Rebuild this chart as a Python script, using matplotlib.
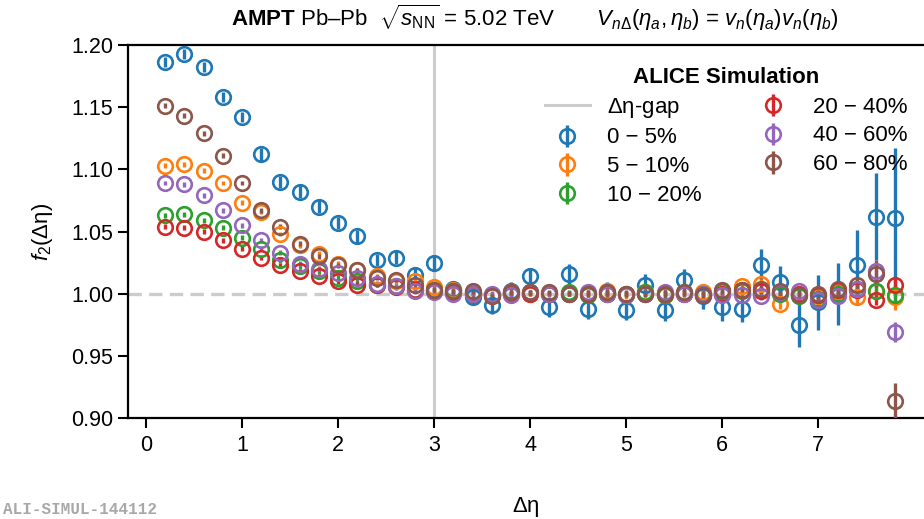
import matplotlib
matplotlib.use("Agg")
import matplotlib.pyplot as plt
import numpy as np

plt.rcParams['font.family'] = ['Liberation Sans', 'DejaVu Sans']
plt.rcParams['mathtext.fontset'] = 'custom'
plt.rcParams['mathtext.rm'] = 'Liberation Sans'
plt.rcParams['mathtext.it'] = 'Liberation Sans:italic'
plt.rcParams['mathtext.bf'] = 'Liberation Sans:bold'

deta = [0.2, 0.4, 0.6, 0.8, 1.0, 1.2, 1.4, 1.6, 1.8, 2.0, 2.2, 2.4, 2.6, 2.8, 3.0,
        3.2, 3.4, 3.6, 3.8, 4.0, 4.2, 4.4, 4.6, 4.8, 5.0, 5.2, 5.4, 5.6, 5.8, 6.0,
        6.2, 6.4, 6.6, 6.8, 7.0, 7.2, 7.4, 7.6, 7.8]

labels = ["0 \u2212 5%", "5 \u2212 10%", "10 \u2212 20%", "20 \u2212 40%", "40 \u2212 60%", "60 \u2212 80%"]
colors = ["#1f77b4", "#ff7f0e", "#2ca02c", "#d62728", "#9467bd", "#8c564b"]

f_0_5 = [1.186, 1.193, 1.182, 1.158, 1.142, 1.112, 1.090, 1.082, 1.070, 1.057, 1.046, 1.027, 1.029, 1.015, 1.025,
         1.004, 0.997, 0.991, 1.002, 1.014, 0.989, 1.016, 0.988, 1.001, 0.987, 1.007, 0.987, 1.011, 0.998, 0.989,
         0.988, 1.023, 1.009, 0.975, 0.993, 1.000, 1.023, 1.062, 1.061]
e_0_5 = [0.004, 0.004, 0.004, 0.004, 0.004, 0.005, 0.005, 0.005, 0.005, 0.005, 0.005, 0.005, 0.005, 0.006, 0.006,
         0.006, 0.006, 0.007, 0.007, 0.007, 0.008, 0.008, 0.008, 0.008, 0.008, 0.009, 0.009, 0.009, 0.010, 0.011,
         0.011, 0.013, 0.013, 0.018, 0.022, 0.025, 0.028, 0.035, 0.056]

f_5_10 = [1.103, 1.104, 1.099, 1.089, 1.073, 1.066, 1.048, 1.039, 1.032, 1.024, 1.019, 1.014, 1.010, 1.010, 1.005,
          1.003, 1.001, 0.999, 1.001, 1.000, 1.000, 1.000, 1.000, 1.002, 0.999, 1.001, 0.999, 1.000, 1.001, 1.002,
          1.006, 1.008, 0.992, 0.999, 0.998, 1.002, 0.997, 1.002, 0.997]
e_5_10 = [0.002, 0.002, 0.002, 0.002, 0.002, 0.002, 0.002, 0.002, 0.002, 0.002, 0.002, 0.002, 0.002, 0.002, 0.002,
          0.002, 0.002, 0.002, 0.002, 0.002, 0.002, 0.002, 0.003, 0.003, 0.003, 0.003, 0.003, 0.003, 0.003, 0.003,
          0.003, 0.004, 0.004, 0.004, 0.004, 0.005, 0.005, 0.006, 0.010]

f_10_20 = [1.063, 1.064, 1.059, 1.053, 1.045, 1.036, 1.027, 1.022, 1.018, 1.013, 1.010, 1.007, 1.006, 1.003, 1.003,
           1.002, 1.000, 0.999, 1.000, 1.001, 1.000, 1.001, 0.999, 1.000, 1.000, 1.001, 0.999, 1.001, 1.000, 1.002,
           1.002, 1.003, 1.000, 0.998, 0.996, 1.000, 1.004, 1.002, 0.999]
e_10_20 = [0.002, 0.002, 0.002, 0.002, 0.002, 0.002, 0.002, 0.002, 0.002, 0.002, 0.002, 0.002, 0.002, 0.002, 0.002,
           0.002, 0.002, 0.002, 0.002, 0.002, 0.002, 0.002, 0.002, 0.002, 0.002, 0.003, 0.003, 0.003, 0.003, 0.003,
           0.003, 0.003, 0.003, 0.003, 0.004, 0.004, 0.004, 0.005, 0.006]

f_20_40 = [1.054, 1.053, 1.050, 1.043, 1.036, 1.029, 1.023, 1.018, 1.014, 1.010, 1.007, 1.007, 1.005, 1.003, 1.002,
           1.001, 1.000, 0.998, 1.000, 1.000, 1.000, 1.000, 1.000, 1.000, 1.000, 1.000, 1.000, 1.000, 0.999, 1.000,
           1.003, 1.002, 1.001, 1.000, 0.999, 1.003, 1.003, 0.995, 1.007]
e_20_40 = [0.002, 0.002, 0.002, 0.002, 0.002, 0.002, 0.002, 0.002, 0.002, 0.002, 0.002, 0.002, 0.002, 0.002, 0.002,
           0.002, 0.002, 0.002, 0.002, 0.002, 0.002, 0.002, 0.002, 0.002, 0.002, 0.002, 0.002, 0.002, 0.002, 0.002,
           0.002, 0.003, 0.003, 0.003, 0.003, 0.003, 0.004, 0.004, 0.005]

f_40_60 = [1.089, 1.088, 1.079, 1.067, 1.055, 1.043, 1.033, 1.024, 1.020, 1.017, 1.013, 1.008, 1.006, 1.002, 1.001,
           1.000, 1.000, 1.000, 0.999, 1.001, 1.000, 1.000, 1.001, 1.000, 0.999, 1.000, 1.001, 1.000, 1.000, 0.999,
           0.999, 0.998, 1.001, 1.002, 0.995, 0.998, 1.004, 1.018, 0.969]
e_40_60 = [0.002, 0.002, 0.002, 0.002, 0.002, 0.002, 0.002, 0.002, 0.002, 0.002, 0.002, 0.002, 0.002, 0.002, 0.002,
           0.002, 0.002, 0.002, 0.002, 0.002, 0.002, 0.002, 0.002, 0.002, 0.002, 0.003, 0.003, 0.003, 0.003, 0.003,
           0.003, 0.003, 0.003, 0.004, 0.004, 0.004, 0.005, 0.006, 0.008]

f_60_80 = [1.151, 1.143, 1.129, 1.111, 1.089, 1.067, 1.054, 1.040, 1.030, 1.023, 1.019, 1.013, 1.011, 1.007, 1.003,
           1.002, 1.002, 0.998, 1.001, 1.001, 1.001, 1.000, 1.000, 1.001, 1.000, 1.000, 1.000, 1.001, 0.999, 1.003,
           1.003, 1.004, 1.002, 0.999, 1.000, 1.004, 1.007, 1.016, 0.914]
e_60_80 = [0.002, 0.002, 0.002, 0.002, 0.002, 0.002, 0.002, 0.002, 0.002, 0.002, 0.002, 0.002, 0.002, 0.002, 0.002,
           0.002, 0.002, 0.002, 0.002, 0.002, 0.002, 0.002, 0.003, 0.003, 0.003, 0.003, 0.003, 0.003, 0.003, 0.003,
           0.003, 0.004, 0.004, 0.004, 0.004, 0.005, 0.006, 0.011, 0.014]

values = [f_0_5, f_5_10, f_10_20, f_20_40, f_40_60, f_60_80]
errors = [e_0_5, e_5_10, e_10_20, e_20_40, e_40_60, e_60_80]

yticks = [0.90, 0.95, 1.00, 1.05, 1.10, 1.15, 1.20]
xticks = [0, 1, 2, 3, 4, 5, 6, 7]

fig = plt.figure(figsize=(9.24, 5.19), dpi=100)
ax = fig.add_axes([128 / 924, 101 / 519, 1 - 128 / 924, 373 / 519])

ax.axhline(1.0, color="#cccccc", lw=2.4, ls=(0, (4.0, 2.2)), zorder=1)
gap = ax.axvline(3.0, color="#cccccc", lw=2.2, zorder=1, label=r"$\mathit{\Delta}$η-gap")

handles = [gap]
for v, e, c, lab in zip(values, errors, colors, labels):
    h = ax.errorbar(deta, v, yerr=e, fmt='o', ms=10.5, mfc='none', mec=c, mew=1.9,
                    ecolor=c, elinewidth=2.4, capsize=0, color=c, label=lab, zorder=3)
    handles.append(h)

ax.set_xlim(-0.1875, 8.10)
ax.set_ylim(0.90, 1.20)
ax.set_xticks(xticks)
ax.set_yticks(yticks)
ax.set_yticklabels([f"{t:.2f}" for t in yticks])
ax.tick_params(axis='both', which='major', direction='out', length=7, width=1.5, labelsize=15.5)
ax.tick_params(axis='x', pad=5)
for s in ['left', 'top', 'bottom']:
    ax.spines[s].set_linewidth(1.6)
ax.spines['right'].set_visible(False)

ax.set_xlabel(r"$\mathit{\Delta}$η", fontsize=16, labelpad=28)
ax.set_ylabel(r"$f_2$($\mathit{\Delta}$η)", fontsize=16, labelpad=12)

leg = ax.legend(handles=handles, loc='upper right', bbox_to_anchor=(1.0045, 0.995), ncol=2,
                frameon=False, fontsize=16, title="ALICE Simulation",
                title_fontproperties={'weight': 'bold', 'size': 16},
                handlelength=2.0, columnspacing=2.2, labelspacing=0.35, handletextpad=0.8)

fig.text(0.579, 0.966,
         r"$\mathbf{AMPT}$ Pb–Pb  $\sqrt{s_{\mathrm{NN}}}$ = 5.02 TeV       "
         r"$V_{n\Delta}(\eta_a, \eta_b)$ = $v_n(\eta_a)v_n(\eta_b)$",
         ha='center', va='center', fontsize=16)

fig.text(0.003, 0.004, "ALI-SIMUL-144112", family=['Liberation Mono', 'DejaVu Sans Mono'],
         weight='bold', color='#a8a8a8', fontsize=11.5, ha='left', va='bottom')

fig.savefig("out.png", dpi=100)
